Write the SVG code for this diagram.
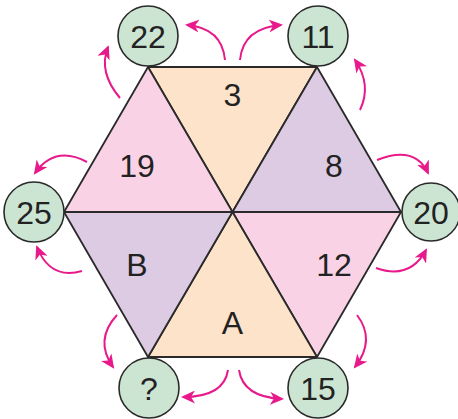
<svg xmlns="http://www.w3.org/2000/svg" width="458" height="419" viewBox="0 0 458 419">
<defs>
<style>
.tri{stroke:#2a2a2a;stroke-width:1.8;stroke-linejoin:round}
.peach{fill:#fde3c9}
.pink{fill:#f9d3e5}
.lav{fill:#dccbe2}
.circ{fill:#cce5d3;stroke:#2a2a2a;stroke-width:1.6}
.t{font-family:"Liberation Sans",Arial,sans-serif;font-size:32px;fill:#222;text-anchor:middle}
.arr{fill:none;stroke:#e8198b;stroke-width:2;marker-end:url(#ah)}
</style>
<marker id="ah" markerUnits="userSpaceOnUse" markerWidth="15" markerHeight="13" refX="12" refY="6.5" orient="auto">
<path d="M0,0 L14,6.5 L0,13 L4,6.5 z" fill="#e8198b"/>
</marker>
</defs>
<rect width="458" height="419" fill="#fff"/>
<g id="triangles">
<g id="tri-3"><polygon class="tri peach" points="148,67 317,67 232.5,212"/><text class="t" x="232.5" y="106">3</text></g>
<g id="tri-8"><polygon class="tri lav" points="317,67 401,212 232.5,212"/><text class="t" x="334" y="177">8</text></g>
<g id="tri-12"><polygon class="tri pink" points="401,212 317,357 232.5,212"/><text class="t" x="334" y="276">12</text></g>
<g id="tri-A"><polygon class="tri peach" points="317,357 148,357 232.5,212"/><text class="t" x="232.5" y="334">A</text></g>
<g id="tri-B"><polygon class="tri lav" points="148,357 64,212 232.5,212"/><text class="t" x="137" y="276">B</text></g>
<g id="tri-19"><polygon class="tri pink" points="64,212 148,67 232.5,212"/><text class="t" x="137" y="177">19</text></g>
</g>
<g id="connectors">
<path class="arr" d="M120,98 Q98,72 108,47"/>
<path class="arr" d="M225,60 Q222,28 187,25"/>
<path class="arr" d="M240,60 Q243,28 281,25"/>
<path class="arr" d="M360,110 Q372,85 355,60"/>
<path class="arr" d="M87,162 Q55,145 35,173"/>
<path class="arr" d="M82,271 Q50,280 37,247"/>
<path class="arr" d="M377,160 Q415,145 428,173"/>
<path class="arr" d="M376,268 Q410,280 426,250"/>
<path class="arr" d="M117,315 Q94,340 113,367"/>
<path class="arr" d="M228,370 Q224,397 183,397"/>
<path class="arr" d="M239,370 Q243,397 282,399"/>
<path class="arr" d="M357,315 Q376,340 355,367"/>
</g>
<g id="c22"><circle class="circ" cx="148" cy="36" r="30"/><text class="t" x="148" y="47.5">22</text></g>
<g id="c11"><circle class="circ" cx="318" cy="36" r="30"/><text class="t" x="318" y="47.5">11</text></g>
<g id="c20"><circle class="circ" cx="431" cy="212" r="29"/><text class="t" x="431" y="223.5">20</text></g>
<g id="c15"><circle class="circ" cx="318" cy="388" r="30"/><text class="t" x="318" y="399.5">15</text></g>
<g id="cq"><circle class="circ" cx="149" cy="388" r="30"/><text class="t" x="149" y="399.5">?</text></g>
<g id="c25"><circle class="circ" cx="34" cy="212" r="30"/><text class="t" x="34" y="223.5">25</text></g>
</svg>
